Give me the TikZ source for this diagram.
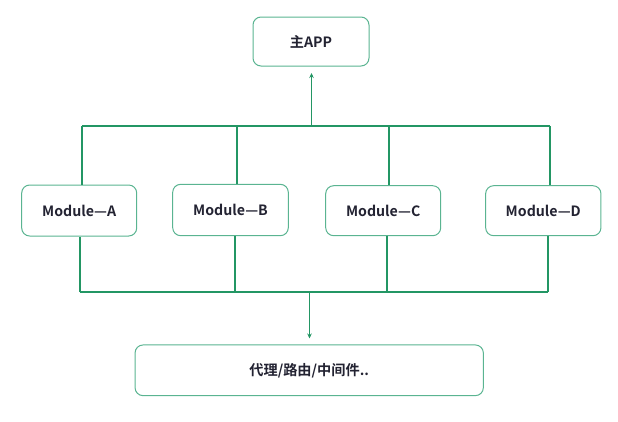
\documentclass[tikz,border=0pt]{standalone}
\usepackage{fontspec}
\setmainfont{Noto Sans CJK SC}[BoldFont={* Bold}]
\usetikzlibrary{arrows.meta}
\definecolor{linegreen}{RGB}{35,150,100}
\definecolor{boxgreen}{RGB}{90,180,145}
\definecolor{txt}{RGB}{35,35,50}
\begin{document}
\begin{tikzpicture}[x=1pt,y=-1pt,
  box/.style={draw=boxgreen,line width=1pt,rounded corners=8pt,fill=white,
    text=txt,font=\bfseries\fontsize{14.2}{16}\selectfont,inner sep=0pt},
  wire/.style={draw=linegreen,line width=2pt},
  arr/.style={draw=linegreen,line width=1.1pt,-{Stealth[length=5pt,width=4.5pt]}}]
\useasboundingbox (0,0) rectangle (618,421);
\node[box,minimum width=116pt,minimum height=49pt] (app) at (311,41.5) {主APP};
\node[box,minimum width=115pt,minimum height=51pt] (ma) at (79.2,210.5) {Module—A};
\node[box,minimum width=115.6pt,minimum height=51.4pt] (mb) at (230.5,210) {Module—B};
\node[box,minimum width=115pt,minimum height=50pt] (mc) at (383.2,210.7) {Module—C};
\node[box,minimum width=115.3pt,minimum height=50pt] (md) at (543.3,210.7) {Module—D};
\node[box,minimum width=348.3pt,minimum height=50.7pt] (proxy) at (309.2,370.3) {代理/路由/中间件..};
\coordinate (ta) at (82,126);
\coordinate (tb) at (237,126);
\coordinate (tc) at (389,126);
\coordinate (td) at (550,126);
\coordinate (tm) at (311.5,126);
\coordinate (ba) at (80,292);
\coordinate (bb) at (235,292);
\coordinate (bc) at (387,292);
\coordinate (bd) at (548,292);
\coordinate (bm) at (309.5,292);
\draw[wire] (ta) -- (td);
\draw[wire] (ta) -- (ta |- ma.north);
\draw[wire] (tb) -- (tb |- mb.north);
\draw[wire] (tc) -- (tc |- mc.north);
\draw[wire] (td) -- (td |- md.north);
\draw[wire] (ba) -- (bd);
\draw[wire] (ba) -- (ba |- ma.south);
\draw[wire] (bb) -- (bb |- mb.south);
\draw[wire] (bc) -- (bc |- mc.south);
\draw[wire] (bd) -- (bd |- md.south);
\draw[arr] (tm) -- (311.5,73);
\draw[arr] (bm) -- (309.5,338.5);
\end{tikzpicture}
\end{document}
